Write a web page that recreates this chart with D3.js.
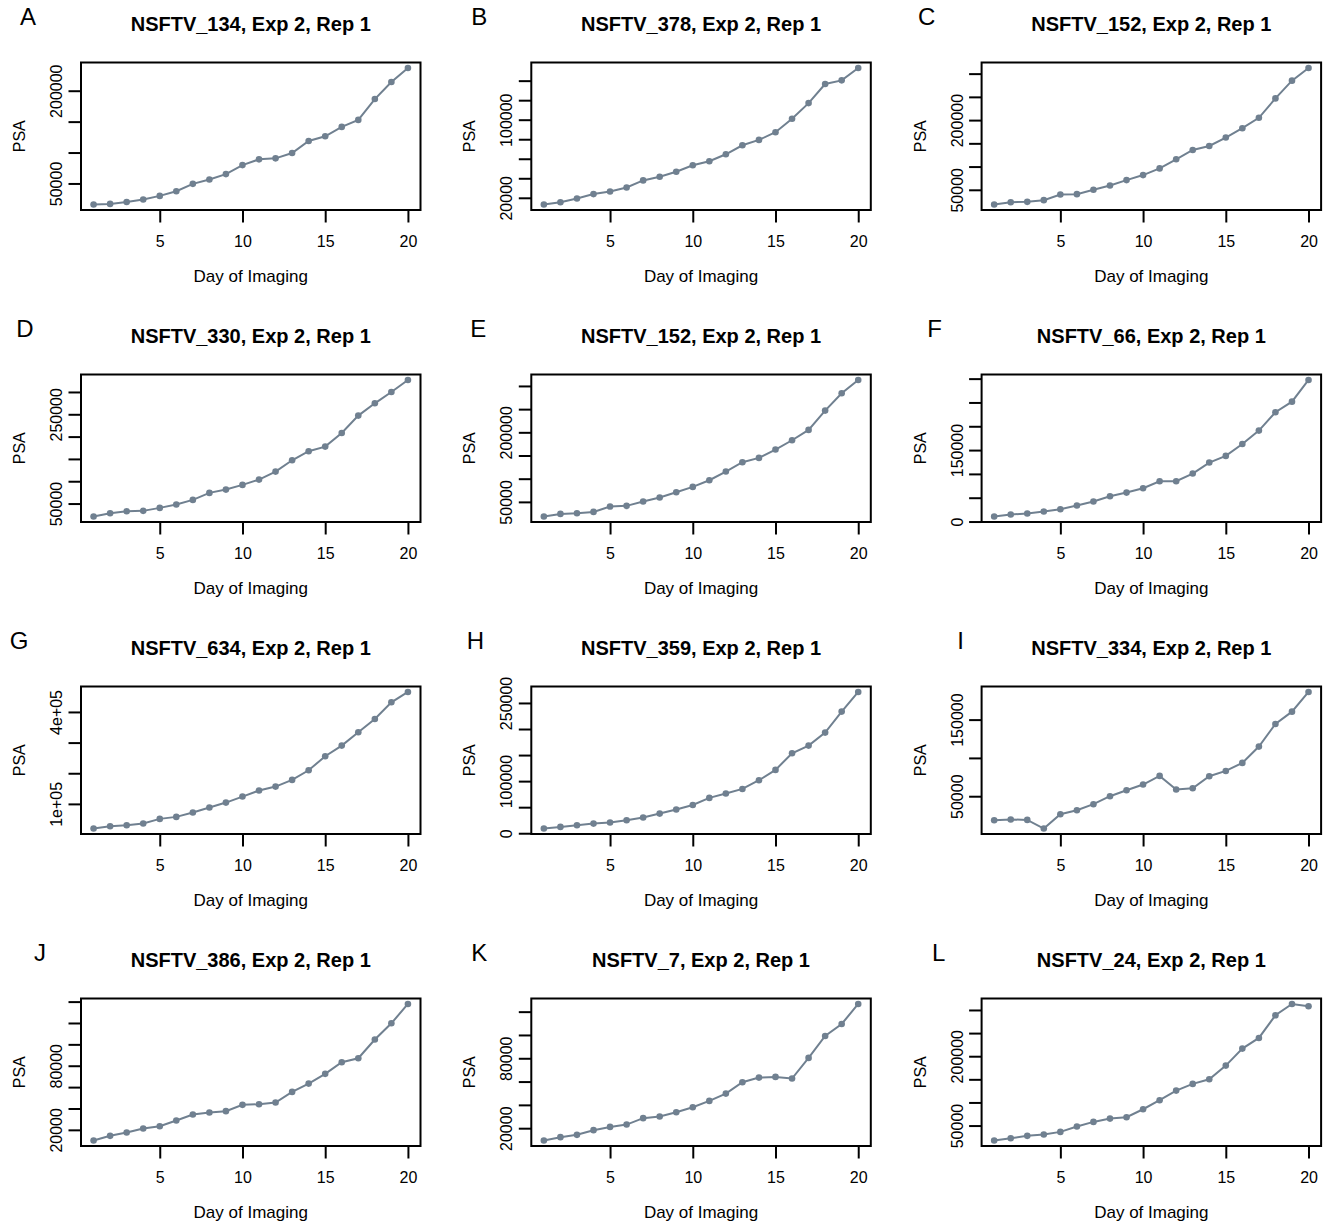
<!DOCTYPE html>
<html><head><meta charset="utf-8">
<script src="https://cdn.jsdelivr.net/npm/d3@7"></script>
<style>
body{margin:0;background:#fff}
svg{display:block}
text{font-family:"Liberation Sans",Arial,Helvetica,sans-serif;fill:#000}
</style>
</head><body>
<svg id="chart" width="1335" height="1226"></svg>
<script>
// ---------- data ----------
const days = [1,2,3,4,5,6,7,8,9,10,11,12,13,14,15,16,17,18,19,20];
const xTicks = [5,10,15,20];
const xTickLabels = ["5","10","15","20"];
const panelLetters = ["A","B","C","D","E","F","G","H","I","J","K","L"];
const panelTitles = [
  "NSFTV_134, Exp 2, Rep 1","NSFTV_378, Exp 2, Rep 1","NSFTV_152, Exp 2, Rep 1",
  "NSFTV_330, Exp 2, Rep 1","NSFTV_152, Exp 2, Rep 1","NSFTV_66, Exp 2, Rep 1",
  "NSFTV_634, Exp 2, Rep 1","NSFTV_359, Exp 2, Rep 1","NSFTV_334, Exp 2, Rep 1",
  "NSFTV_386, Exp 2, Rep 1","NSFTV_7, Exp 2, Rep 1","NSFTV_24, Exp 2, Rep 1"];
const xLabel = "Day of Imaging";
const yLabel = "PSA";

const psaA = [15900,16900,20100,24000,29900,37500,49400,56500,65100,79700,89000,90600,99200,118700,126300,141500,152800,186500,214000,236800];
const psaB = [13100,15500,19300,23800,26500,30600,37800,41600,46700,53300,57400,64600,73800,79300,87200,100900,117000,136600,140300,153000];
const psaC = [18300,23300,24100,27700,39900,40600,50000,59400,70900,81700,96100,115600,135700,144400,162400,182600,204900,246700,284900,312200];
const psaD = [20900,28400,32800,33600,40300,47800,58200,73900,81300,91800,103700,121600,147000,167200,177600,208200,247000,274600,300000,326900];
const psaE = [18400,24100,25600,28400,39900,41400,50700,59300,70800,82300,96700,115400,135500,144800,162800,182900,205200,246800,284200,312900];
const psaF = [10500,14700,16800,21000,25900,33600,42000,53100,60800,69900,84600,84600,100700,123800,137800,162900,190900,229400,251700,297200];
const psaG = [19600,27200,30400,35900,51100,57600,71700,88000,104300,123900,143500,156500,178300,209800,255400,290200,333700,377200,431500,465200];
const psaH = [9000,12100,15300,18500,20500,24900,30100,37700,45400,54300,67800,76100,85000,101700,121500,153500,168200,193100,233400,271100];
const psaI = [18700,19600,19100,7800,26500,31700,39600,50000,57800,65200,76500,58700,60400,76100,83000,93500,114800,144300,160400,186100];
const psaJ = [10000,14400,17500,21200,23400,28700,34300,36200,37500,43400,44000,45600,55500,63300,72400,83300,87000,104500,119700,137800];
const psaK = [9400,12300,14300,18300,21100,23100,28600,30000,33700,38000,43400,49700,59400,63400,64000,62600,80300,99100,109400,126600];
const psaL = [17600,22600,27700,30500,36300,47800,57900,65100,68000,85300,104800,125600,140100,150100,179700,216400,239500,288500,313000,307900];

const yTicksA = [50000,100000,150000,200000];
const yTickLabelsA = ["50000","","","200000"];
const yTicksB = [20000,40000,60000,80000,100000,120000,140000];
const yTickLabelsB = ["20000","","","","100000","",""];
const yTicksC = [50000,100000,150000,200000,250000,300000];
const yTickLabelsC = ["50000","","","200000","",""];
const yTicksD = [50000,100000,150000,200000,250000,300000];
const yTickLabelsD = ["50000","","","","250000",""];
const yTicksE = [50000,100000,150000,200000,250000,300000];
const yTickLabelsE = ["50000","","","200000","",""];
const yTicksF = [0,50000,100000,150000,200000,250000,300000];
const yTickLabelsF = ["0","","","150000","","",""];
const yTicksG = [100000,200000,300000,400000];
const yTickLabelsG = ["1e+05","","","4e+05"];
const yTicksH = [0,50000,100000,150000,200000,250000];
const yTickLabelsH = ["0","","100000","","","250000"];
const yTicksI = [50000,100000,150000];
const yTickLabelsI = ["50000","","150000"];
const yTicksJ = [20000,40000,60000,80000,100000,120000,140000];
const yTickLabelsJ = ["20000","","","80000","","",""];
const yTicksK = [20000,40000,60000,80000,100000,120000];
const yTickLabelsK = ["20000","","","80000","",""];
const yTicksL = [50000,100000,150000,200000,250000,300000];
const yTickLabelsL = ["50000","","","200000","",""];

const seriesList = [psaA,psaB,psaC,psaD,psaE,psaF,psaG,psaH,psaI,psaJ,psaK,psaL];
const yTickList = [yTicksA,yTicksB,yTicksC,yTicksD,yTicksE,yTicksF,yTicksG,yTicksH,yTicksI,yTicksJ,yTicksK,yTicksL];
const yTickLabelList = [yTickLabelsA,yTickLabelsB,yTickLabelsC,yTickLabelsD,yTickLabelsE,yTickLabelsF,yTickLabelsG,yTickLabelsH,yTickLabelsI,yTickLabelsJ,yTickLabelsK,yTickLabelsL];

// ---------- layout ----------
const colOffset = 450.3, rowOffset = 312;
const box = {left:81, right:420.5, top:62.5, bottom:210};
const letterCenterX = [28,29,26, 25,28,34, 19,25,60, 40,29,38];
const lineColor = "#708090";
const fs = 16;

const svg = d3.select("#chart");

function rDomain(vals){
  const mn = d3.min(vals), mx = d3.max(vals), r = mx - mn;
  return [mn - 0.04*r, mx + 0.04*r];
}

seriesList.forEach((vals, i) => {
  const col = i % 3, row = Math.floor(i / 3);
  const g = svg.append("g").attr("transform", `translate(${col*colOffset},${row*rowOffset})`);
  const x = d3.scaleLinear().domain(rDomain(days)).range([box.left, box.right]);
  const y = d3.scaleLinear().domain(rDomain(vals)).range([box.bottom, box.top]);

  // letter
  g.append("text").attr("x", letterCenterX[i]).attr("y", 25)
    .attr("text-anchor","middle").attr("font-size", 24).text(panelLetters[i]);
  // title
  g.append("text").attr("x", (box.left+box.right)/2).attr("y", 30.5)
    .attr("text-anchor","middle").attr("font-size", 20).attr("font-weight","bold")
    .text(panelTitles[i]);

  // x axis
  const xAxis = d3.axisBottom(x).tickValues(xTicks)
    .tickFormat((d,k) => xTickLabels[k]).tickSize(12.5).tickPadding(12);
  const gx = g.append("g").attr("transform", `translate(0,${box.bottom})`).call(xAxis);
  gx.select(".domain").remove();
  gx.selectAll(".tick line").attr("stroke","#000").attr("stroke-width",2);
  gx.selectAll(".tick text").attr("font-size", fs).attr("font-family",null)
    .attr("fill","#000").attr("dy",null).attr("y", 36.5);

  // y axis
  const yt = yTickList[i], ytl = yTickLabelList[i];
  const yAxis = d3.axisLeft(y).tickValues(yt)
    .tickFormat((d,k) => ytl[k]).tickSize(12.5);
  const gy = g.append("g").attr("transform", `translate(${box.left},0)`).call(yAxis);
  gy.select(".domain").remove();
  gy.selectAll(".tick line").attr("stroke","#000").attr("stroke-width",2);
  gy.selectAll(".tick text").attr("font-size", fs).attr("font-family",null).attr("fill","#000")
    .attr("x", null).attr("dy", null).attr("text-anchor","middle")
    .attr("transform", "translate(-19,0) rotate(-90)");

  // box
  g.append("rect").attr("x", box.left).attr("y", box.top)
    .attr("width", box.right-box.left).attr("height", box.bottom-box.top)
    .attr("fill","none").attr("stroke","#000").attr("stroke-width",2);

  // axis labels
  g.append("text").attr("x", (box.left+box.right)/2).attr("y", box.bottom+72)
    .attr("text-anchor","middle").attr("font-size", 17).text(xLabel);
  g.append("text").attr("transform", `translate(${box.left-56},${(box.top+box.bottom)/2}) rotate(-90)`)
    .attr("text-anchor","middle").attr("font-size", fs).text(yLabel);

  // line + points
  const pts = days.map((d,k) => [d, vals[k]]);
  g.append("path").datum(pts)
    .attr("d", d3.line().x(d => x(d[0])).y(d => y(d[1])))
    .attr("fill","none").attr("stroke", lineColor).attr("stroke-width", 2);
  g.selectAll("circle.pt").data(pts).enter().append("circle").attr("class","pt")
    .attr("cx", d => x(d[0])).attr("cy", d => y(d[1])).attr("r", 3.3)
    .attr("fill", lineColor);
});
</script>
</body></html>
